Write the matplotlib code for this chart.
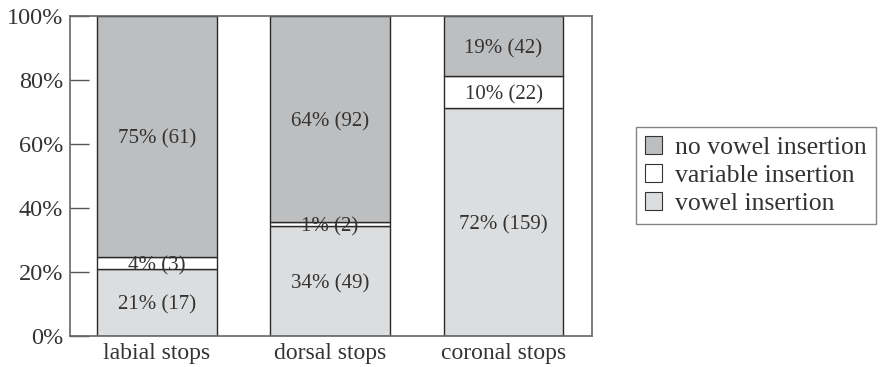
import matplotlib
matplotlib.use("Agg")
from matplotlib import pyplot as plt
from matplotlib.patches import Patch
import numpy as np

plt.rcParams['font.family'] = ['Liberation Serif', 'DejaVu Serif']

# data
categories = ['labial stops', 'dorsal stops', 'coronal stops']
series = ['vowel insertion', 'variable insertion', 'no vowel insertion']
counts = {
    'vowel insertion': [17, 49, 159],
    'variable insertion': [3, 2, 22],
    'no vowel insertion': [61, 92, 42],
}
pct_labels = {
    'vowel insertion': [21, 34, 72],
    'variable insertion': [4, 1, 10],
    'no vowel insertion': [75, 64, 19],
}
colors = {
    'vowel insertion': '#dcdddf',
    'variable insertion': '#ffffff',
    'no vowel insertion': '#bdbec0',
}

totals = np.sum([counts[s] for s in series], axis=0)
x = np.arange(len(categories))

fig = plt.figure(figsize=(8.85, 3.67), dpi=100)
ax = fig.add_axes([0.0791, 0.0845, 0.5898, 0.8715])

bottom = np.zeros(len(categories))
for s in series:
    h = 100 * np.array(counts[s]) / totals
    ax.bar(x, h, 0.69, bottom=bottom, color=colors[s], edgecolor='#2a2a2a', linewidth=1.0)
    for i in range(len(categories)):
        ax.text(x[i], bottom[i] + h[i] / 2, '%d%% (%d)' % (pct_labels[s][i], counts[s][i]),
                ha='center', va='center_baseline', fontsize=15, color='#333333')
    bottom += h

ax.set_xlim(-0.5, 2.51)
ax.set_ylim(0, 100)
ax.set_yticks([0, 20, 40, 60, 80, 100])
ax.set_yticklabels(['%d%%' % v for v in [0, 20, 40, 60, 80, 100]], fontsize=17.5, color='#333333')
ax.set_xticks(x)
ax.set_xticklabels(categories, fontsize=17, color='#333333')
ax.tick_params(axis='y', direction='in', length=14, width=1, color='#555555', pad=5)
ax.tick_params(axis='x', length=0, pad=5)
for sp in ax.spines.values():
    sp.set_color('#666666')
    sp.set_linewidth(1.2)

handles = [Patch(facecolor=colors[s], edgecolor='#333333', linewidth=0.8) for s in series[::-1]]
leg = fig.legend(handles, series[::-1], loc='upper left', bbox_to_anchor=(0.7186, 0.654),
                 fontsize=18.5, frameon=True, fancybox=False, handlelength=0.68, handleheight=0.68,
                 handletextpad=0.5, labelspacing=0.2, borderpad=0.35, borderaxespad=0,
                 labelcolor='#333333')
leg.get_frame().set_edgecolor('#666666')
leg.get_frame().set_linewidth(1.0)

plt.savefig('out.png', dpi=100)
